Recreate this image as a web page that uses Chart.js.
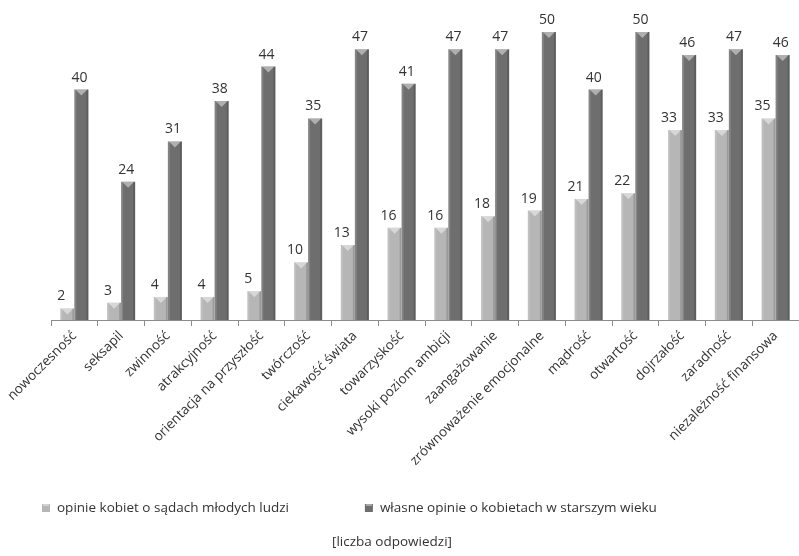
<!DOCTYPE html>
<html>
<head>
<meta charset="utf-8">
<script src="https://cdn.jsdelivr.net/npm/chart.js@4.4.1/dist/chart.umd.min.js"></script>
<style>
  html, body { margin: 0; padding: 0; background: #fff; }
  #wrap { width: 799px; height: 556px; position: relative; }
</style>
</head>
<body>
<div id="wrap"><canvas id="opinionsChart"></canvas></div>
<script>
// Categories and values
const categories = [
  "nowoczesność", "seksapil", "zwinność", "atrakcyjność", "orientacja na przyszłość",
  "twórczość", "ciekawość świata", "towarzyskość", "wysoki poziom ambicji", "zaangażowanie",
  "zrównoważenie emocjonalne", "mądrość", "otwartość", "dojrzałość", "zaradność",
  "niezależność finansowa"
];
const youngOpinions = [2, 3, 4, 4, 5, 10, 13, 16, 16, 18, 19, 21, 22, 33, 33, 35];
const ownOpinions = [40, 24, 31, 38, 44, 35, 47, 41, 47, 47, 50, 40, 50, 46, 47, 46];
const seriesNames = ["opinie kobiet o sądach młodych ludzi", "własne opinie o kobietach w starszym wieku"];
const caption = "[liczba odpowiedzi]";

const FONT = "'Open Sans', sans-serif";
const TEXT = "#333333";
const LIGHT = "#b6b6b6";
const DARK = "#6e6e6e";

// bevel-ish shading on top of each bar + value labels with white box
const barDecor = {
  id: "barDecor",
  afterDatasetsDraw(chart) {
    const ctx = chart.ctx;
    ctx.save();
    chart.data.datasets.forEach((ds, di) => {
      const meta = chart.getDatasetMeta(di);
      meta.data.forEach((bar) => {
        const l = bar.x - bar.width / 2;
        const r = bar.x + bar.width / 2;
        // side shading
        ctx.fillStyle = "rgba(255,255,255,0.15)";
        ctx.fillRect(l, bar.y, 2, bar.base - bar.y);
        ctx.fillStyle = "rgba(0,0,0,0.15)";
        ctx.fillRect(r - 2, bar.y, 2, bar.base - bar.y);
        // top triangle
        const h = Math.min(6, bar.base - bar.y);
        ctx.fillStyle = "rgba(255,255,255,0.45)";
        ctx.beginPath();
        ctx.moveTo(l + 1, bar.y);
        ctx.lineTo(r - 1, bar.y);
        ctx.lineTo(bar.x, bar.y + h);
        ctx.closePath();
        ctx.fill();
      });
    });

    ctx.font = "14px " + FONT;
    ctx.textAlign = "center";
    ctx.textBaseline = "middle";
    chart.data.datasets.forEach((ds, di) => {
      const meta = chart.getDatasetMeta(di);
      const shift = di === 0 ? -6 : -2;
      meta.data.forEach((bar, i) => {
        const txt = String(ds.data[i]);
        const w = ctx.measureText(txt).width + 4;
        const x = bar.x + shift;
        const y = bar.y - 12;
        ctx.fillStyle = "#fff";
        ctx.fillRect(x - w / 2, y - 9, w, 18);
        ctx.fillStyle = TEXT;
        ctx.fillText(txt, x, y);
      });
    });
    ctx.restore();
  },
};

// legend and caption under the axis labels
const bottomLegend = {
  id: "bottomLegend",
  afterDraw(chart) {
    const ctx = chart.ctx;
    const colors = [LIGHT, DARK];
    ctx.save();
    ctx.font = "13.5px " + FONT;
    ctx.textBaseline = "middle";
    ctx.textAlign = "left";
    const y = chart.height - 48;
    let x = 42;
    seriesNames.forEach((name, i) => {
      ctx.fillStyle = colors[i];
      ctx.fillRect(x, y - 4, 8, 8);
      ctx.fillStyle = "rgba(255,255,255,0.4)";
      ctx.fillRect(x + 1, y - 4, 6, 2);
      ctx.fillStyle = TEXT;
      ctx.fillText(name, x + 15, y);
      x += 15 + ctx.measureText(name).width + 76;
    });
    ctx.textAlign = "center";
    ctx.fillText(caption, 392, chart.height - 14);
    ctx.restore();
  },
};

const chart = new Chart(document.getElementById("opinionsChart"), {
  type: "bar",
  data: {
    labels: categories,
    datasets: [
      {
        label: seriesNames[0],
        data: youngOpinions,
        backgroundColor: LIGHT,
        borderWidth: 0,
      },
      {
        label: seriesNames[1],
        data: ownOpinions,
        backgroundColor: DARK,
        borderWidth: 0,
      },
    ],
  },
  options: {
    responsive: true,
    maintainAspectRatio: false,
    animation: false,
    categoryPercentage: 0.6,
    barPercentage: 1.0,
    layout: {
      padding: { top: 32, left: 51, right: 0, bottom: 86 },
    },
    plugins: {
      legend: { display: false },
      tooltip: { enabled: false },
    },
    scales: {
      x: {
        grid: {
          drawOnChartArea: false,
          drawTicks: true,
          tickLength: 6,
          tickColor: "#8c8c8c",
        },
        border: { display: true, color: "#8c8c8c" },
        ticks: {
          color: TEXT,
          font: { family: FONT, size: 13.5 },
          minRotation: 45,
          maxRotation: 45,
          autoSkip: false,
          padding: 2,
        },
        afterFit: (scale) => {
          scale.height = 150;
          scale.paddingLeft = 0;
          scale.paddingRight = 0;
        },
      },
      y: {
        display: false,
        min: 0,
        max: 50,
      },
    },
  },
  plugins: [barDecor, bottomLegend],
});
</script>
</body>
</html>
